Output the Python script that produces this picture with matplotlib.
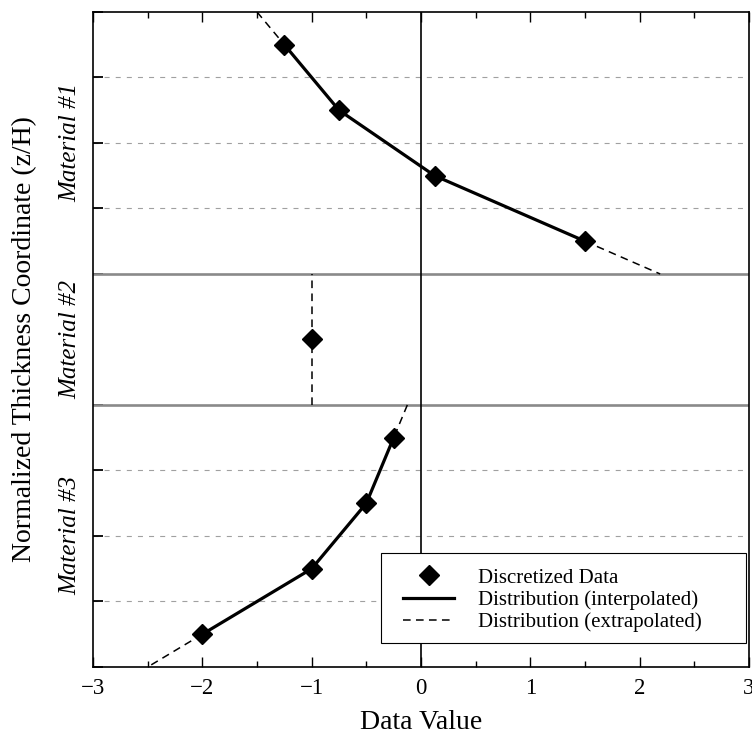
import numpy as np
import matplotlib
matplotlib.use("Agg")
import matplotlib.pyplot as plt
from matplotlib.lines import Line2D
from matplotlib.patches import Rectangle
from matplotlib.transforms import blended_transform_factory

plt.rcParams['font.family'] = ['Liberation Serif', 'DejaVu Serif']

# ---- data ----
material_names = ["Material #1", "Material #2", "Material #3"]
layer_tops = [10.0, 6.0, 4.0]
layer_bottoms = [6.0, 4.0, 0.0]
mat1_x = [-1.25, -0.75, 0.125, 1.5]
mat1_y = [9.5, 8.5, 7.5, 6.5]
mat2_x = [-1.0]
mat2_y = [5.0]
mat3_x = [-0.25, -0.5, -1.0, -2.0]
mat3_y = [3.5, 2.5, 1.5, 0.5]
x_ticks = [-3, -2, -1, 0, 1, 2, 3]
legend_labels = ["Discretized Data", "Distribution (interpolated)", "Distribution (extrapolated)"]

materials = [(mat1_x, mat1_y), (mat2_x, mat2_y), (mat3_x, mat3_y)]

fig = plt.figure(figsize=(7.52, 7.34), dpi=100)
ax = fig.add_axes([0.1237, 0.0913, 0.8723, 0.8924])
ax.set_xlim(-3, 3)
ax.set_ylim(0, 10)

dash_ext = (0, (5, 3.5))
ytick_pos = []
# sub-layer grid lines within multi-point materials (dashed light gray)
for (xs, ys), top, bot in zip(materials, layer_tops, layer_bottoms):
    ytick_pos += [bot, top]
    if len(xs) > 1:
        for yv in np.arange(bot + 1, top):
            ax.axhline(yv, color='#a0a0a0', lw=0.8, ls=(0, (4.5, 5.5)), zorder=1)
            ytick_pos.append(yv)
# material boundaries
for b in layer_bottoms[:-1]:
    ax.axhline(b, color='#8a8a8a', lw=1.9, zorder=2)
# zero line
ax.axvline(0, color='black', lw=1.2, zorder=2)

def extrap(xa, ya, xb, yb, yt):
    return xa + (xb - xa) * (yt - ya) / (yb - ya)

for (xs, ys), top, bot in zip(materials, layer_tops, layer_bottoms):
    if len(xs) == 1:
        ax.plot([xs[0], xs[0]], [bot, top], color='black', lw=1.1, ls=dash_ext, zorder=3)
    else:
        ax.plot(xs, ys, color='black', lw=2.3, zorder=4)
        xt = extrap(xs[0], ys[0], xs[1], ys[1], top)
        xbm = extrap(xs[-1], ys[-1], xs[-2], ys[-2], bot)
        ax.plot([xt, xs[0]], [top, ys[0]], color='black', lw=1.1, ls=dash_ext, zorder=3)
        ax.plot([xs[-1], xbm], [ys[-1], bot], color='black', lw=1.1, ls=dash_ext, zorder=3)
    ax.plot(xs, ys, ls='none', marker='D', ms=10.5, color='black', zorder=5)

# material labels
trans = blended_transform_factory(ax.transAxes, ax.transData)
for name, top, bot in zip(material_names, layer_tops, layer_bottoms):
    ax.text(-0.034, (top + bot) / 2, name, transform=trans, rotation=90,
            ha='center', va='center', fontsize=18, style='italic')

ax.set_xticks(x_ticks)
ax.set_xticklabels([("\u2212" + str(abs(t))) if t < 0 else str(t) for t in x_ticks])
ax.set_xticks(np.arange(-2.5, 3, 1.0), minor=True)
ax.set_yticks(sorted(set(ytick_pos)))
ax.set_yticklabels([])
ax.tick_params(axis='x', which='major', direction='in', length=7, width=1,
               top=True, bottom=True, labelsize=16.5, pad=8)
ax.tick_params(axis='x', which='minor', direction='in', length=4, width=1,
               top=True, bottom=True)
ax.tick_params(axis='y', which='major', direction='in', length=7, width=1.3,
               left=True, right=False)
for s in ax.spines.values():
    s.set_linewidth(1.2)
    s.set_zorder(6)

ax.set_xlabel("Data Value", fontsize=20, labelpad=8)
ax.set_ylabel("Normalized Thickness Coordinate (z/H)", fontsize=20, labelpad=37)

# legend frame (box wider than its content, as in the reference)
ax.add_patch(Rectangle((0.439, 0.0366), 0.5564, 0.1374, transform=ax.transAxes,
                       facecolor='white', edgecolor='black', lw=0.8, zorder=9))
handles = [
    Line2D([], [], ls='none', marker='D', ms=10.5, color='black'),
    Line2D([], [], color='black', lw=2.3),
    Line2D([], [], color='black', lw=1.1, ls=dash_ext),
]
leg = ax.legend(handles, legend_labels, loc='upper left',
                bbox_to_anchor=(0.4726, 0.151), borderaxespad=0, borderpad=0,
                fontsize=15, frameon=False, handlelength=2.45,
                labelspacing=0.12, handletextpad=1.15)
leg.set_zorder(10)

fig.savefig("out.png", dpi=100)
